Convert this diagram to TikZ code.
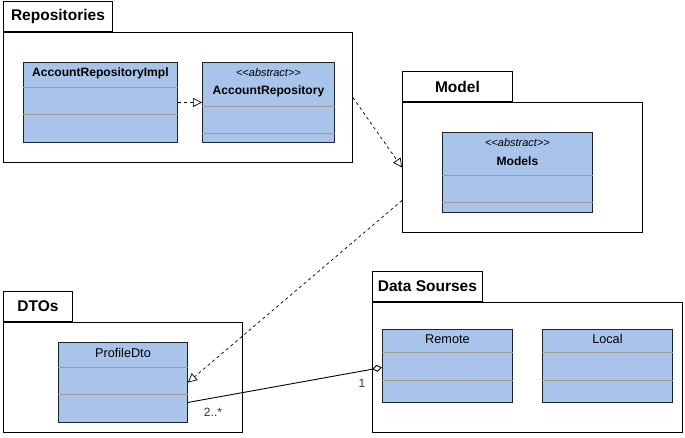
\documentclass[tikz,border=0pt]{standalone}
\usepackage{fontspec}
\setmainfont{Liberation Sans}
\usetikzlibrary{arrows.meta}
\definecolor{clsfill}{HTML}{A9C4EB}
\definecolor{divcol}{HTML}{A09A92}
\definecolor{clsline}{HTML}{1A2430}
\begin{document}
\begin{tikzpicture}[x=1pt,y=-1pt,
  pkg/.style={draw=black, line width=0.9pt, fill=white, inner sep=0pt, anchor=north west},
  pkgtab/.style={draw=black, line width=0.9pt, fill=white, inner sep=0pt, anchor=south west, minimum height=30pt, font=\fontsize{15.5}{18}\selectfont\bfseries},
  cls/.style={draw=clsline, line width=0.9pt, fill=clsfill, inner sep=0pt, anchor=north west},
  clsname/.style={inner sep=0pt, font=\fontsize{12.1}{14}\selectfont\bfseries},
  clsplain/.style={inner sep=0pt, font=\fontsize{12.7}{14}\selectfont},
  stereo/.style={inner sep=0pt, font=\fontsize{11}{12}\selectfont\itshape},
  divider/.style={draw=divcol, line width=0.8pt},
  realize/.style={dashed, line width=0.7pt, -{Triangle[open, length=9pt, width=9pt]}},
  assoc/.style={line width=0.9pt, -{Diamond[open, length=10pt, width=7pt]}},
  mult/.style={inner sep=0pt, font=\fontsize{12}{14}\selectfont, text=black!80}
]
\useasboundingbox (0,0) rectangle (685,437);

% Repositories package
\node[pkg, minimum width=349pt, minimum height=130pt] (repo) at (3,32) {};
\node[pkgtab, minimum width=109pt] (repotab) at (repo.north west) {Repositories};
\node[cls, minimum width=154pt, minimum height=80pt] (impl) at (23,62) {};
\node[clsname] (implname) at ([yshift=-11pt]impl.north) {AccountRepositoryImpl};
\draw[divider] ([yshift=-25pt]impl.north west) -- ([yshift=-25pt]impl.north east);
\draw[divider] ([yshift=-52pt]impl.north west) -- ([yshift=-52pt]impl.north east);
\node[cls, minimum width=132pt, minimum height=80pt] (acc) at (202,62) {};
\node[stereo] (accst) at ([yshift=-11pt]acc.north) {{<}{<}abstract{>}{>}};
\node[clsname] (accname) at ([yshift=-29pt]acc.north) {AccountRepository};
\draw[divider] ([yshift=-44pt]acc.north west) -- ([yshift=-44pt]acc.north east);
\draw[divider] ([yshift=-71pt]acc.north west) -- ([yshift=-71pt]acc.north east);

% Model package
\node[pkg, minimum width=240pt, minimum height=130pt] (model) at (402,102) {};
\node[pkgtab, minimum width=110pt] (modeltab) at (model.north west) {Model};
\node[cls, minimum width=150pt, minimum height=80pt] (models) at (442,132) {};
\node[stereo] (modelsst) at ([yshift=-11pt]models.north) {{<}{<}abstract{>}{>}};
\node[clsname] (modelsname) at ([yshift=-29pt]models.north) {Models};
\draw[divider] ([yshift=-43pt]models.north west) -- ([yshift=-43pt]models.north east);
\draw[divider] ([yshift=-70pt]models.north west) -- ([yshift=-70pt]models.north east);

% DTOs package
\node[pkg, minimum width=239pt, minimum height=110pt] (dtos) at (3,322) {};
\node[pkgtab, minimum width=69pt] (dtostab) at (dtos.north west) {DTOs};
\node[cls, minimum width=129pt, minimum height=80pt] (dto) at (58,342) {};
\node[clsplain] (dtoname) at ([yshift=-11pt]dto.north) {ProfileDto};
\draw[divider] ([yshift=-25pt]dto.north west) -- ([yshift=-25pt]dto.north east);
\draw[divider] ([yshift=-52pt]dto.north west) -- ([yshift=-52pt]dto.north east);

% Data Sourses package
\node[pkg, minimum width=310pt, minimum height=130pt] (ds) at (372,302) {};
\node[pkgtab, minimum width=110pt] (dstab) at (ds.north west) {Data Sourses};
\node[cls, minimum width=130pt, minimum height=73pt] (remote) at (382,329) {};
\node[clsplain] (remotename) at ([yshift=-10pt]remote.north) {Remote};
\draw[divider] ([yshift=-23pt]remote.north west) -- ([yshift=-23pt]remote.north east);
\draw[divider] ([yshift=-51pt]remote.north west) -- ([yshift=-51pt]remote.north east);
\node[cls, minimum width=130pt, minimum height=73pt] (local) at (542,329) {};
\node[clsplain] (localname) at ([yshift=-10pt]local.north) {Local};
\draw[divider] ([yshift=-23pt]local.north west) -- ([yshift=-23pt]local.north east);
\draw[divider] ([yshift=-51pt]local.north west) -- ([yshift=-51pt]local.north east);

% connectors
\draw[realize] (impl.east) -- (acc.west);
\draw[realize] (repo.east) -- (model.west);
\coordinate (modelout) at ([yshift=-33pt]model.west);
\draw[realize] (modelout) -- (dto.east);
\coordinate (dtoout) at ([yshift=-20pt]dto.east);
\coordinate (remotein) at ([yshift=-1.5pt]remote.west);
\draw[assoc] (dtoout) -- (remotein);
\node[mult] (m1) at (213,412) {2..*};
\node[mult] (m2) at (362,383) {1};
\end{tikzpicture}
\end{document}
